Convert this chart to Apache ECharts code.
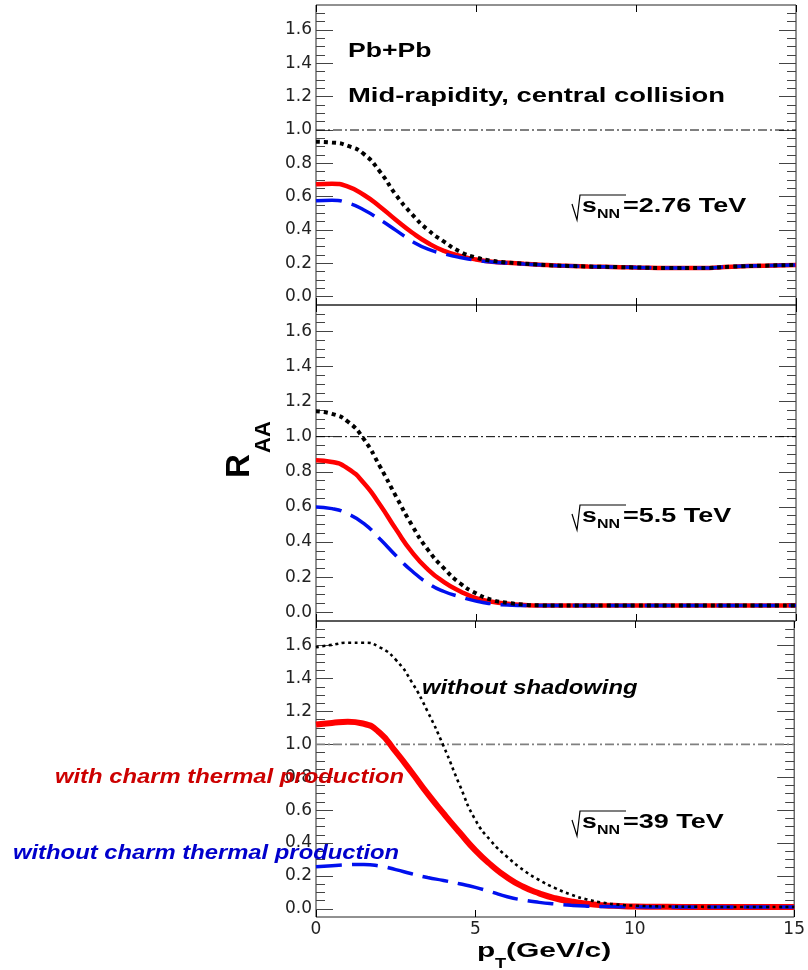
<!DOCTYPE html>
<html>
<head>
<meta charset="utf-8">
<script src="https://cdn.jsdelivr.net/npm/echarts@6/dist/echarts.min.js"></script>
<style>
html, body { margin: 0; padding: 0; background: #fff; }
#chart { width: 808px; height: 970px; }
</style>
</head>
<body>
<div id="chart"></div>
<script>
// pT grid (GeV/c)
const pT = [0, 0.5, 1, 1.5, 2, 2.5, 3, 3.5, 4, 4.5, 5, 5.5, 6, 6.5, 7, 7.5, 8, 8.5, 9, 9.5, 10, 11, 12, 13, 14, 15]

// sqrt(sNN) = 2.76 TeV
const noShadow276 = [0.93, 0.925, 0.905, 0.855, 0.75, 0.61, 0.495, 0.4, 0.33, 0.27, 0.235, 0.215, 0.205, 0.198, 0.192, 0.187, 0.184, 0.181, 0.179, 0.177, 0.175, 0.172, 0.172, 0.18, 0.186, 0.19]
const withTherm276 = [0.675, 0.678, 0.66, 0.61, 0.54, 0.46, 0.385, 0.322, 0.275, 0.245, 0.223, 0.21, 0.203, 0.197, 0.192, 0.187, 0.184, 0.181, 0.179, 0.177, 0.175, 0.172, 0.172, 0.18, 0.186, 0.19]
const noTherm276 = [0.575, 0.578, 0.562, 0.52, 0.462, 0.398, 0.333, 0.285, 0.257, 0.235, 0.219, 0.208, 0.202, 0.196, 0.191, 0.187, 0.184, 0.181, 0.179, 0.177, 0.175, 0.172, 0.172, 0.18, 0.186, 0.19]

// sqrt(sNN) = 5.5 TeV
const noShadow55 = [1.145, 1.13, 1.085, 0.985, 0.83, 0.66, 0.495, 0.355, 0.25, 0.165, 0.108, 0.07, 0.053, 0.043, 0.039, 0.038, 0.038, 0.038, 0.038, 0.038, 0.038, 0.038, 0.038, 0.038, 0.038, 0.038]
const withTherm55 = [0.865, 0.856, 0.818, 0.735, 0.612, 0.472, 0.342, 0.243, 0.172, 0.12, 0.08, 0.06, 0.048, 0.041, 0.038, 0.038, 0.038, 0.038, 0.038, 0.038, 0.038, 0.038, 0.038, 0.038, 0.038, 0.038]
const noTherm55 = [0.6, 0.59, 0.56, 0.505, 0.417, 0.322, 0.235, 0.165, 0.118, 0.088, 0.063, 0.048, 0.041, 0.038, 0.038, 0.038, 0.038, 0.038, 0.038, 0.038, 0.038, 0.038, 0.038, 0.038, 0.038, 0.038]

// sqrt(sNN) = 39 TeV
const noShadow39 = [1.59, 1.605, 1.618, 1.618, 1.59, 1.515, 1.38, 1.2, 0.99, 0.755, 0.54, 0.41, 0.315, 0.236, 0.175, 0.126, 0.086, 0.057, 0.037, 0.025, 0.019, 0.014, 0.012, 0.011, 0.011, 0.011]
const withTherm39 = [1.12, 1.13, 1.137, 1.125, 1.07, 0.955, 0.83, 0.7, 0.58, 0.465, 0.355, 0.265, 0.19, 0.134, 0.094, 0.064, 0.045, 0.031, 0.022, 0.017, 0.014, 0.012, 0.011, 0.011, 0.011, 0.011]
const noTherm39 = [0.256, 0.262, 0.268, 0.27, 0.26, 0.238, 0.213, 0.19, 0.172, 0.152, 0.13, 0.102, 0.073, 0.053, 0.039, 0.029, 0.021, 0.016, 0.014, 0.013, 0.012, 0.011, 0.011, 0.011, 0.011, 0.011]

// R_AA = 1 reference
const unityX = [0, 15]
const unityY = [1, 1]

const yMajor = [0, 0.2, 0.4, 0.6, 0.8, 1.0, 1.2, 1.4, 1.6]
const yMinor = [0, 0.05, 0.1, 0.15, 0.2, 0.25, 0.3, 0.35, 0.4, 0.45, 0.5, 0.55, 0.6, 0.65, 0.7, 0.75, 0.8, 0.85, 0.9, 0.95, 1.0, 1.05, 1.1, 1.15, 1.2, 1.25, 1.3, 1.35, 1.4, 1.45, 1.5, 1.55, 1.6, 1.65, 1.7]
const xMajor = [0, 5, 10, 15]

const panels = [
  { top: 5, height: 300, energy: '2.76 TeV', black: noShadow276, red: withTherm276, blue: noTherm276, thin: false, unityColor: '#000' },
  { top: 305, height: 316, energy: '5.5 TeV', black: noShadow55, red: withTherm55, blue: noTherm55, thin: false, unityColor: '#000' },
  { top: 621, height: 296, energy: '39 TeV', black: noShadow39, red: withTherm39, blue: noTherm39, thin: true, unityColor: '#808080' },
]

const FONT = '"Liberation Sans", Arial, sans-serif'
const TICK_FONT = '"DejaVu Sans", sans-serif'

const grid = []
const xAxis = []
const yAxis = []
const series = []
const graphic = []

function pairs(xs, ys) {
  return xs.map((x, i) => [x, ys[i]])
}

panels.forEach((p, i) => {
  grid.push({
    left: 316, width: 480, top: p.top, height: p.height,
    show: true, borderColor: '#222', borderWidth: 1, backgroundColor: 'transparent',
  })

  const last = i === panels.length - 1
  const yi = yAxis.length

  const yBase = { gridIndex: i, type: 'value', min: -0.05, max: 1.75, splitLine: { show: false }, axisLine: { show: false, onZero: false } }
  ;['left', 'right'].forEach((side) => {
    yAxis.push({
      ...yBase, position: side,
      axisTick: { show: true, inside: true, length: 17, customValues: yMajor, lineStyle: { color: '#444' } },
      axisLabel: {
        show: side === 'left', margin: 4, fontFamily: TICK_FONT, fontSize: 17, color: '#222',
        customValues: yMajor, formatter: (v) => v.toFixed(1),
      },
    })
    yAxis.push({
      ...yBase, position: side,
      axisTick: { show: true, inside: true, length: 9, customValues: yMinor, lineStyle: { color: '#444' } },
      axisLabel: { show: false },
    })
  })
  // helper axes whose zero sits on the bottom / top frame, to anchor the pT ticks
  const yBottom = yAxis.length
  yAxis.push({ gridIndex: i, type: 'value', min: 0, max: 1, show: false })
  const yTop = yAxis.length
  yAxis.push({ gridIndex: i, type: 'value', min: -1, max: 0, show: false })

  const xi = xAxis.length
  const xBase = { gridIndex: i, type: 'value', min: 0, max: 15, interval: 5, splitLine: { show: false } }
  xAxis.push({
    ...xBase, position: 'bottom',
    axisLine: { show: false, onZero: true, onZeroAxisIndex: yBottom },
    axisTick: { show: true, inside: true, length: 7, lineStyle: { color: '#000', width: 1 } },
    axisLabel: { show: last, margin: 4, fontFamily: TICK_FONT, fontSize: 17, color: '#222' },
  })
  xAxis.push({
    ...xBase, position: 'top',
    axisLine: { show: false, onZero: true, onZeroAxisIndex: yTop },
    axisTick: { show: true, inside: true, length: 7, lineStyle: { color: '#000', width: 1 } },
    axisLabel: { show: false },
  })

  const common = { xAxisIndex: xi, yAxisIndex: yi, type: 'line', symbol: 'none', smooth: 0.55, silent: true }

  series.push({
    ...common, name: 'unity' + i, smooth: false, z: 1,
    data: pairs(unityX, unityY),
    lineStyle: { color: p.unityColor, width: p.thin ? 1.6 : 1, type: [9, 3, 2, 3] },
  })
  series.push({
    ...common, name: 'with thermal ' + p.energy, z: 2,
    data: pairs(pT, p.red),
    lineStyle: { color: '#ff0000', width: p.thin ? 6 : 4.5 },
  })
  series.push({
    ...common, name: 'without thermal ' + p.energy, z: 3,
    data: pairs(pT, p.blue),
    lineStyle: { color: '#0010ee', width: 3.5, type: [26, 10] },
  })
  series.push({
    ...common, name: 'without shadowing ' + p.energy, z: 4,
    data: pairs(pT, p.black),
    lineStyle: { color: '#000', width: p.thin ? 2.6 : 4, type: p.thin ? [3, 3.5] : [4, 4], cap: 'butt' },
  })

  // sqrt(s_NN) label
  const yc = p.top + (i === 0 ? 202 : i === 1 ? 212 : 202)
  graphic.push({
    type: 'group', x: 572, y: yc, silent: true,
    children: [
      { type: 'polyline', shape: { points: [[0, -3], [5, 13], [8, -12], [54, -12]] }, style: { stroke: '#000', lineWidth: 1.2, fill: null } },
      { type: 'text', x: 10, y: -1, scaleX: 1.33, style: { text: 's', font: 'bold 20px ' + FONT, fill: '#000', verticalAlign: 'middle' } },
      { type: 'text', x: 25, y: 8, scaleX: 1.33, style: { text: 'NN', font: 'bold 12px ' + FONT, fill: '#000', verticalAlign: 'middle' } },
      { type: 'text', x: 51, y: -1, scaleX: 1.35, style: { text: '=' + p.energy, font: 'bold 20px ' + FONT, fill: '#000', verticalAlign: 'middle' } },
    ],
  })
})

function label(text, x, y, font, color, scaleX) {
  return { type: 'text', x, y, scaleX, silent: true, z: 50, style: { text, font, fill: color, verticalAlign: 'middle', align: 'left' } }
}

graphic.push(label('Pb+Pb', 348, 51, 'bold 20px ' + FONT, '#000', 1.33))
graphic.push(label('Mid-rapidity, central collision', 348, 96, 'bold 20px ' + FONT, '#000', 1.37))
graphic.push(label('without shadowing', 422, 688, 'italic bold 20px ' + FONT, '#000', 1.19))
graphic.push(label('with charm thermal production', 55, 777, 'italic bold 20px ' + FONT, '#cc0000', 1.19))
graphic.push(label('without charm thermal production', 13, 853, 'italic bold 20px ' + FONT, '#0000cc', 1.19))

// y axis title R_AA (rotated)
graphic.push({
  type: 'group', x: 252, y: 478, rotation: Math.PI / 2, silent: true,
  children: [
    { type: 'text', x: 0, y: -12, style: { text: 'R', font: 'bold 33px ' + FONT, fill: '#000', verticalAlign: 'middle' } },
    { type: 'text', x: 25, y: 12, style: { text: 'AA', font: 'bold 22px ' + FONT, fill: '#000', verticalAlign: 'middle' } },
  ],
})

// x axis title p_T(GeV/c)
graphic.push(label('p', 477, 951, 'bold 21px ' + FONT, '#000', 1.42))
graphic.push(label('T', 495, 964, 'bold 14px ' + FONT, '#000', 1.3))
graphic.push(label('(GeV/c)', 506, 951, 'bold 21px ' + FONT, '#000', 1.43))

const chart = echarts.init(document.getElementById('chart'), null, { renderer: 'canvas' })
chart.setOption({
  animation: false,
  backgroundColor: '#fff',
  grid,
  xAxis,
  yAxis,
  series,
  graphic,
})
</script>
</body>
</html>
